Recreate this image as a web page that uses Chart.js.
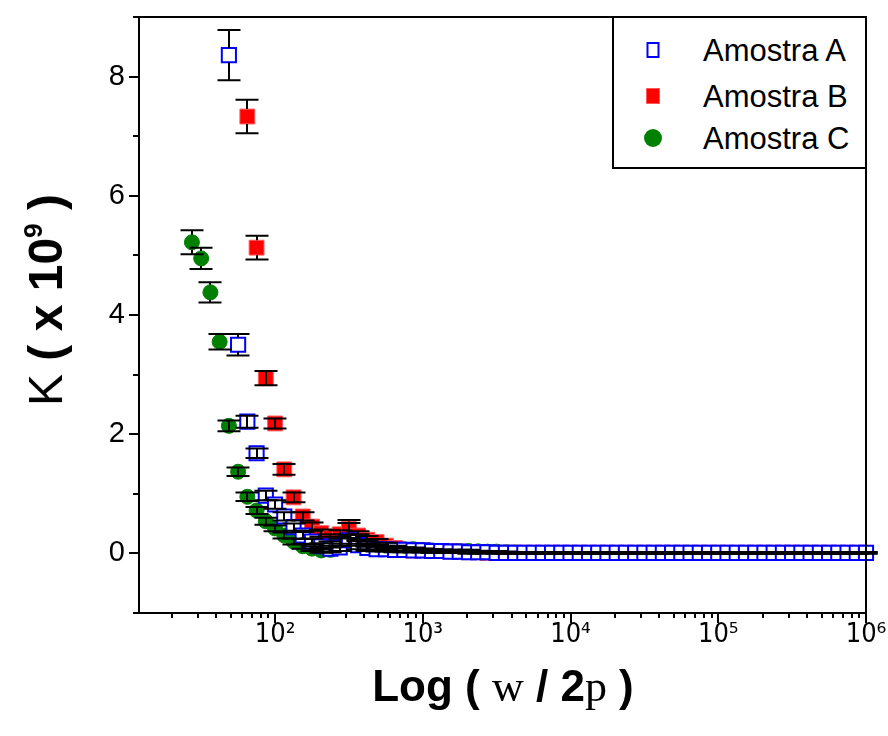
<!DOCTYPE html>
<html lang="pt">
  <head>
    <meta charset="UTF-8" />
    <title>K em função da frequência</title>
    <script src="https://cdn.jsdelivr.net/npm/chart.js"></script>
    <style>
      body {
        margin: 0;
        padding: 0;
        background-color: #fff;
        font-family: "Liberation Sans", Arial, Helvetica, sans-serif;
        color: #000;
      }
      .wrap {
        position: relative;
        width: 888px;
        height: 736px;
      }
      canvas {
        position: absolute;
        left: 0;
        top: 0;
      }
      .axis-title {
        position: absolute;
        white-space: nowrap;
        font-weight: bold;
        line-height: 1;
        transform: translate(-50%, -50%);
      }
      #yTitle {
        left: 46px;
        top: 300px;
        font-size: 48px;
        transform: translate(-50%, -50%) rotate(-90deg);
      }
      #xTitle {
        left: 503px;
        top: 686px;
        font-size: 44px;
      }
      .serif {
        font-family: "Liberation Serif", "Times New Roman", serif;
        font-weight: normal;
      }
      .reg {
        font-weight: normal;
      }
      .axis-title sup {
        font-size: 0.55em;
        vertical-align: 0.75em;
        line-height: 0;
      }
      .legend {
        position: absolute;
        left: 612px;
        top: 16px;
        width: 255px;
        height: 153px;
        box-sizing: border-box;
        border: 2px solid #000;
        background-color: #fff;
      }
      .legend-item {
        position: absolute;
        left: 0;
        width: 100%;
        height: 0;
      }
      .mk {
        position: absolute;
        left: 39px;
        top: 0;
        transform: translate(-50%, -50%);
        box-sizing: border-box;
      }
      .mk-a {
        width: 13px;
        height: 16px;
        border: 2px solid #0000ff;
        background-color: #fff;
      }
      .mk-b {
        width: 14px;
        height: 16px;
        border: 1px solid #ff5a5a;
        background-color: #ff0000;
      }
      .mk-c {
        width: 18px;
        height: 18px;
        border-radius: 50%;
        background-color: #008000;
      }
      .legend-label {
        position: absolute;
        left: 89px;
        top: 0;
        transform: translateY(-50%);
        font-size: 31px;
        line-height: 1;
        white-space: nowrap;
      }
    </style>
  </head>
  <body>
    <div class="wrap">
      <canvas id="kChart" width="888" height="736"></canvas>

      <div class="axis-title" id="yTitle">
        <span class="reg">K</span> ( x 10<sup>9</sup> )
      </div>
      <div class="axis-title" id="xTitle">
        Log ( <span class="serif">w</span> / 2<span class="serif">p</span> )
      </div>

      <div class="legend">
        <div class="legend-item" style="top: 32px">
          <span class="mk mk-a"></span><span class="legend-label">Amostra A</span>
        </div>
        <div class="legend-item" style="top: 78px">
          <span class="mk mk-b"></span><span class="legend-label">Amostra B</span>
        </div>
        <div class="legend-item" style="top: 120px">
          <span class="mk mk-c"></span><span class="legend-label">Amostra C</span>
        </div>
      </div>
    </div>

    <script>
      // frequências medidas (Hz), 16 pontos por década
      const freqHz = [
        27.38, 31.62, 36.52, 42.17, 48.7, 56.23, 64.94, 74.99, 86.6,
        100, 115.5, 133.4, 154.0, 177.8, 205.4, 237.1, 273.8, 316.2, 365.2, 421.7, 487.0, 562.3, 649.4, 749.9, 866.0,
        1000, 1155, 1334, 1540, 1778, 2054, 2371, 2738, 3162, 3652, 4217, 4870, 5623, 6494, 7499, 8660,
        10000, 11550, 13340, 15400, 17780, 20540, 23710, 27380, 31620, 36520, 42170, 48700, 56230, 64940, 74990, 86600,
        100000, 115500, 133400, 154000, 177800, 205400, 237100, 273800, 316200, 365200, 421700, 487000, 562300, 649400, 749900, 866000,
        1000000,
      ];

      // K (x 10^9) de cada amostra, alinhado com freqHz
      const amostraA = [
        null, null, null, null, 8.36, 3.5, 2.21, 1.68, 0.97,
        0.82, 0.62, 0.44, 0.3, 0.2, 0.12, 0.08, 0.1, 0.22, 0.14, 0.09, 0.07, 0.07, 0.06, 0.06, 0.05,
        0.05, 0.04, 0.04, 0.03, 0.03, 0.02, 0.02, 0.02, 0.01, 0.01, 0.01, 0.01, 0.01, 0.01, 0.01, 0.01,
        0.01, 0.01, 0.01, 0.01, 0.01, 0.01, 0.01, 0.01, 0.01, 0.01, 0.01, 0.01, 0.01, 0.01, 0.01, 0.01,
        0.01, 0.01, 0.01, 0.01, 0.01, 0.01, 0.01, 0.01, 0.01, 0.01, 0.01, 0.01, 0.01, 0.01, 0.01, 0.01,
        0.01,
      ];
      const amostraB = [
        null, null, null, null, null, null, 7.33, 5.13, 2.94,
        2.18, 1.41, 0.94, 0.62, 0.45, 0.34, 0.26, 0.32, 0.41, 0.3, 0.23, 0.19, 0.13, 0.09, 0.06, 0.05,
        0.05, 0.04, 0.04, 0.035, 0.03, 0.02, 0.02, 0.01, 0.01, 0.01, 0.01, 0.01, 0.01, 0.01, 0.01, 0.01,
        0.01, 0.01, 0.01, 0.01, 0.01, 0.01, 0.01, 0.01, 0.01, 0.01, 0.01, 0.01, 0.01, 0.01, 0.01, 0.01,
        0.01, 0.01, 0.01, 0.01, 0.01, 0.01, 0.01, 0.01, 0.01, 0.01, 0.01, 0.01, 0.01, 0.01, 0.01, 0.01,
        0.01,
      ];
      const amostraC = [
        5.22, 4.95, 4.38, 3.55, 2.14, 1.37, 0.95, 0.72, 0.54,
        0.42, 0.3, 0.2, 0.12, 0.08, 0.05, 0.06, 0.2, 0.41, 0.24, 0.16, 0.11, 0.09, 0.08, 0.07, 0.07,
        0.06, 0.05, 0.04, 0.04, 0.04, 0.04, 0.035, 0.03, 0.03, 0.02, 0.015, 0.01, 0.01, 0.01, 0.01, 0.01,
        0.01, 0.01, 0.01, 0.01, 0.01, 0.01, 0.01, 0.01, 0.01, 0.01, 0.01, 0.01, 0.01, 0.01, 0.01, 0.01,
        0.01, 0.01, 0.01, 0.01, 0.01, 0.01, 0.01, 0.01, 0.01, 0.01, 0.01, 0.01, 0.01, 0.01, 0.01, 0.01,
        0.012,
      ];

      // desvios (barras de erro), mesma ordem
      const erroA = [
        null, null, null, null, 0.42, 0.18, 0.1, 0.08, 0.08,
        0.07, 0.07, 0.06, 0.06, 0.05, 0.05, 0.05, 0.06, 0.09, 0.07, 0.05, 0.04, 0.04, 0.04, 0.03, 0.03,
        0.03, 0.03, 0.02, 0.02, 0.02, 0.02, 0.02, 0.01, 0.01, 0.01, 0.01, 0.01, 0.01, 0.01, 0.01, 0.01,
        0.01, 0.01, 0.01, 0.01, 0.01, 0.01, 0.01, 0.01, 0.01, 0.01, 0.01, 0.01, 0.01, 0.01, 0.01, 0.01,
        0.01, 0.01, 0.01, 0.01, 0.01, 0.01, 0.01, 0.01, 0.01, 0.01, 0.01, 0.01, 0.01, 0.01, 0.01, 0.01,
        0.01,
      ];
      const erroB = [
        null, null, null, null, null, null, 0.28, 0.2, 0.12,
        0.085, 0.09, 0.08, 0.07, 0.07, 0.06, 0.06, 0.07, 0.1, 0.07, 0.06, 0.05, 0.05, 0.04, 0.04, 0.03,
        0.03, 0.03, 0.02, 0.02, 0.02, 0.02, 0.01, 0.01, 0.01, 0.01, 0.01, 0.01, 0.01, 0.01, 0.01, 0.01,
        0.01, 0.01, 0.01, 0.01, 0.01, 0.01, 0.01, 0.01, 0.01, 0.01, 0.01, 0.01, 0.01, 0.01, 0.01, 0.01,
        0.01, 0.01, 0.01, 0.01, 0.01, 0.01, 0.01, 0.01, 0.01, 0.01, 0.01, 0.01, 0.01, 0.01, 0.01, 0.01,
        0.01,
      ];
      const erroC = [
        0.2, 0.18, 0.17, 0.13, 0.09, 0.07, 0.07, 0.06, 0.06,
        0.05, 0.05, 0.05, 0.04, 0.04, 0.04, 0.04, 0.08, 0.15, 0.08, 0.05, 0.04, 0.04, 0.03, 0.03, 0.03,
        0.02, 0.02, 0.02, 0.02, 0.02, 0.02, 0.01, 0.01, 0.01, 0.01, 0.01, 0.01, 0.01, 0.01, 0.01, 0.01,
        0.01, 0.01, 0.01, 0.01, 0.01, 0.01, 0.01, 0.01, 0.01, 0.01, 0.01, 0.01, 0.01, 0.01, 0.01, 0.01,
        0.01, 0.01, 0.01, 0.01, 0.01, 0.01, 0.01, 0.01, 0.01, 0.01, 0.01, 0.01, 0.01, 0.01, 0.01, 0.01,
        0.01,
      ];

      // marcas dos eixos
      const xDecadas = [100, 1000, 10000, 100000, 1000000];
      const yRotulos = [0, 2, 4, 6, 8];
      const yMenores = [-1, 1, 3, 5, 7, 9];

      const expoente = { 2: "\u00b2", 3: "\u00b3", 4: "\u2074", 5: "\u2075", 6: "\u2076" };

      // junta frequência, valor e erro em pontos {x, y, err}
      function pontos(valores, erros) {
        const out = [];
        freqHz.forEach((f, i) => {
          if (valores[i] !== null) out.push({ x: f, y: valores[i], err: erros[i] });
        });
        return out;
      }

      // barras de erro pretas, desenhadas por cima dos símbolos
      const barrasDeErro = {
        id: "barrasDeErro",
        afterDatasetsDraw(chart) {
          const { ctx, scales } = chart;
          const capW = 23;
          ctx.save();
          ctx.strokeStyle = "#000";
          ctx.lineWidth = 2;
          chart.data.datasets.forEach((ds) => {
            const half = ds.halfSize;
            ds.data.forEach((p) => {
              const px = Math.round(scales.x.getPixelForValue(p.x));
              const py = scales.y.getPixelForValue(p.y);
              const top = scales.y.getPixelForValue(p.y + p.err);
              const bot = scales.y.getPixelForValue(p.y - p.err);
              ctx.beginPath();
              if (py - top > half) {
                ctx.moveTo(px, top);
                ctx.lineTo(px, py - half);
                ctx.moveTo(px, py + half);
                ctx.lineTo(px, bot);
              } else {
                ctx.moveTo(px, top);
                ctx.lineTo(px, bot);
              }
              ctx.moveTo(px - capW / 2, top);
              ctx.lineTo(px + capW / 2, top);
              ctx.moveTo(px - capW / 2, bot);
              ctx.lineTo(px + capW / 2, bot);
              ctx.stroke();
            });
          });
          ctx.restore();
        },
      };

      // moldura do gráfico e traços dos eixos (maiores e menores)
      const moldura = {
        id: "moldura",
        afterDraw(chart) {
          const { ctx, chartArea: a, scales } = chart;
          ctx.save();
          ctx.strokeStyle = "#000";
          ctx.lineWidth = 2;
          ctx.beginPath();
          ctx.moveTo(a.left - 6, a.bottom);
          ctx.lineTo(a.right, a.bottom);
          ctx.lineTo(a.right, a.top);
          ctx.lineTo(a.left, a.top);
          ctx.lineTo(a.left, a.bottom);

          yRotulos.concat(yMenores).forEach((v) => {
            const len = yRotulos.includes(v) ? 10 : 6;
            const py = Math.round(scales.y.getPixelForValue(v));
            ctx.moveTo(a.left - len, py);
            ctx.lineTo(a.left, py);
          });

          const xMin = scales.x.min;
          const xMax = scales.x.max;
          [10, 100, 1000, 10000, 100000].forEach((d) => {
            for (let m = 1; m <= 9; m++) {
              const v = m * d;
              if (v < xMin || v > xMax) continue;
              const len = m === 1 ? 10 : 5;
              const px = Math.round(scales.x.getPixelForValue(v));
              ctx.moveTo(px, a.bottom);
              ctx.lineTo(px, a.bottom + len);
            }
          });
          const pxFim = Math.round(scales.x.getPixelForValue(1000000));
          ctx.moveTo(pxFim, a.bottom);
          ctx.lineTo(pxFim, a.bottom + 10);
          ctx.stroke();
          ctx.restore();
        },
      };

      const ctx = document.getElementById("kChart").getContext("2d");
      new Chart(ctx, {
        type: "scatter",
        data: {
          datasets: [
            {
              label: "Amostra A",
              data: pontos(amostraA, erroA),
              pointStyle: "rect",
              pointRadius: 10,
              pointBorderWidth: 2,
              pointBorderColor: "#0000ff",
              pointBackgroundColor: "#ffffff",
              halfSize: 7,
              clip: false,
            },
            {
              label: "Amostra B",
              data: pontos(amostraB, erroB),
              pointStyle: "rect",
              pointRadius: 10.5,
              pointBorderWidth: 1,
              pointBorderColor: "#ff5a5a",
              pointBackgroundColor: "#ff0000",
              halfSize: 7.5,
              clip: false,
            },
            {
              label: "Amostra C",
              data: pontos(amostraC, erroC),
              pointStyle: "circle",
              pointRadius: 7.5,
              pointBorderWidth: 1,
              pointBorderColor: "#008000",
              pointBackgroundColor: "#008000",
              halfSize: 7.5,
              clip: false,
            },
          ],
        },
        options: {
          responsive: false,
          animation: false,
          devicePixelRatio: 1,
          layout: {
            padding: { left: 0, right: 22, top: 17, bottom: 0 },
          },
          scales: {
            x: {
              type: "logarithmic",
              min: 12,
              max: 1000000,
              afterBuildTicks: (s) => {
                s.ticks = xDecadas.map((v) => ({ value: v }));
              },
              afterFit: (s) => {
                s.height = 123;
                s.paddingLeft = 0;
                s.paddingRight = 0;
              },
              grid: { display: false, drawTicks: false },
              border: { display: false },
              ticks: {
                autoSkip: false,
                maxRotation: 0,
                padding: 6,
                color: "#000",
                font: {
                  family: '"Liberation Sans Narrow", "DejaVu Sans Condensed", "Liberation Sans", Arial',
                  size: 27,
                },
                callback: (v) => "10" + expoente[Math.round(Math.log10(v))],
              },
            },
            y: {
              type: "linear",
              min: -1,
              max: 9,
              afterBuildTicks: (s) => {
                s.ticks = yRotulos.map((v) => ({ value: v }));
              },
              afterFit: (s) => {
                s.width = 139;
                s.paddingTop = 0;
                s.paddingBottom = 0;
              },
              grid: { display: false, drawTicks: false },
              border: { display: false },
              ticks: {
                autoSkip: false,
                padding: 14,
                color: "#000",
                font: { family: '"Liberation Sans", Arial', size: 29 },
              },
            },
          },
          plugins: {
            legend: { display: false },
            tooltip: { enabled: false },
          },
        },
        plugins: [barrasDeErro, moldura],
      });
    </script>
  </body>
</html>
